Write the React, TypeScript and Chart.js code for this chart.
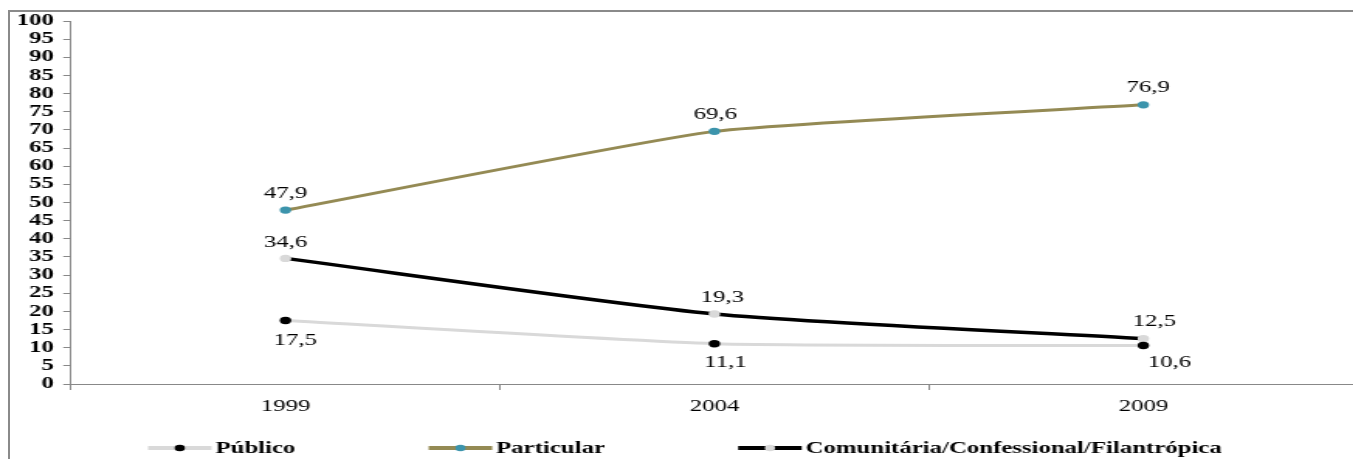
import React, { useEffect, useRef } from "react";
import { Chart, registerables } from "chart.js";

Chart.register(...registerables);

// ---- data ----
const years = ["1999", "2004", "2009"];
const publico = [17.5, 11.1, 10.6];
const particular = [47.9, 69.6, 76.9];
const comunitaria = [34.6, 19.3, 12.5];
const seriesNames = ["Público", "Particular", "Comunitária/Confessional/Filantrópica"];
const yMin = 0;
const yMax = 100;
const yStep = 5;

// ---- layout / style ----
const SX = 1.55; // horizontal stretch of the picture
const W = 880;
const H = 459;
const FONT = "'Liberation Serif', 'Times New Roman', serif";

const fmt = (v: number) => v.toFixed(1).replace(".", ",");

const labelPlugin = {
  id: "valueLabels",
  afterDatasetsDraw(chart: any, _args: any, opts: any) {
    const ctx = chart.ctx;
    ctx.save();
    ctx.font = `16px ${FONT}`;
    ctx.fillStyle = "#000";
    ctx.textAlign = "center";
    ctx.textBaseline = "middle";
    chart.data.datasets.forEach((ds: any, di: number) => {
      const meta = chart.getDatasetMeta(di);
      const off = opts.offsets[di];
      meta.data.forEach((pt: any, i: number) => {
        const [dx, dy] = off[i];
        ctx.fillText(fmt(ds.data[i]), pt.x + dx / SX, pt.y + dy);
      });
    });
    ctx.restore();
  },
};

const legendPlugin = {
  id: "lineLegend",
  afterDraw(chart: any, _args: any, opts: any) {
    const ctx = chart.ctx;
    ctx.save();
    ctx.font = `bold 16px ${FONT}`;
    ctx.textBaseline = "middle";
    ctx.textAlign = "left";
    let x = opts.startX;
    const y = opts.y;
    chart.data.datasets.forEach((ds: any) => {
      ctx.strokeStyle = ds.borderColor;
      ctx.lineWidth = opts.lineWidth;
      ctx.lineCap = "butt";
      ctx.beginPath();
      ctx.moveTo(x, y);
      ctx.lineTo(x + opts.lineLen, y);
      ctx.stroke();
      ctx.fillStyle = ds.pointBackgroundColor;
      ctx.beginPath();
      ctx.arc(x + opts.lineLen / 2, y, opts.dotR, 0, Math.PI * 2);
      ctx.fill();
      const tx = x + opts.lineLen + opts.textGap;
      ctx.fillStyle = "#000";
      ctx.fillText(ds.label, tx, y + 1);
      x = tx + ctx.measureText(ds.label).width + opts.itemGap;
    });
    ctx.restore();
  },
};

export default function App() {
  const ref = useRef<HTMLCanvasElement>(null);

  useEffect(() => {
    if (!ref.current) return;
    const chart = new Chart(ref.current, {
      type: "line",
      data: {
        labels: years,
        datasets: [
          {
            label: seriesNames[0],
            data: publico,
            borderColor: "#D9D9D9",
            borderWidth: 3,
            pointBackgroundColor: "#000000",
            pointBorderColor: "#000000",
            pointBorderWidth: 0,
            pointRadius: 3.7,
            tension: 0.18,
          },
          {
            label: seriesNames[1],
            data: particular,
            borderColor: "#948A54",
            borderWidth: 3,
            pointBackgroundColor: "#3C94AC",
            pointBorderColor: "#3C94AC",
            pointBorderWidth: 0,
            pointRadius: 3.7,
            tension: 0.15,
          },
          {
            label: seriesNames[2],
            data: comunitaria,
            borderColor: "#000000",
            borderWidth: 3.5,
            pointBackgroundColor: "#D9D9D9",
            pointBorderColor: "#D9D9D9",
            pointBorderWidth: 0,
            pointRadius: 3.7,
            tension: 0.22,
          },
        ],
      },
      options: {
        responsive: false,
        animation: false,
        devicePixelRatio: 1,
        layout: {
          padding: { left: 0, top: 21, right: W - 1359 / SX, bottom: 0 },
        },
        scales: {
          x: {
            type: "category",
            offset: true,
            grid: {
              offset: true,
              drawOnChartArea: false,
              drawTicks: true,
              tickLength: 6,
              color: "#888888",
              lineWidth: 1,
            },
            border: { color: "#888888", width: 1 },
            ticks: {
              color: "#000",
              font: { family: FONT, size: 16 },
              padding: 7,
              maxRotation: 0,
              autoSkip: false,
            },
            afterFit: (s: any) => {
              s.height = 75;
            },
          },
          y: {
            min: yMin,
            max: yMax,
            ticks: {
              stepSize: yStep,
              autoSkip: false,
              color: "#000",
              font: { family: FONT, size: 16, weight: "bold" },
              padding: 6,
            },
            grid: {
              drawOnChartArea: false,
              tickLength: 5,
              color: "#888888",
            },
            border: { color: "#888888", width: 1 },
            afterFit: (s: any) => {
              s.width = 71 / SX;
            },
          },
        },
        plugins: {
          legend: { display: false },
          tooltip: { enabled: false },
          valueLabels: {
            offsets: [
              [[10, 20], [11, 19], [26, 17]],
              [[0, -16], [1, -17], [5, -17]],
              [[0, -16], [8, -16], [11, -17]],
            ],
          },
          lineLegend: {
            startX: 148 / SX,
            y: 448,
            lineLen: 41,
            textGap: 2.5,
            itemGap: 86,
            lineWidth: 4,
            dotR: 3.3,
          },
        } as any,
      },
      plugins: [labelPlugin, legendPlugin],
    } as any);
    return () => chart.destroy();
  }, []);

  return (
    <div
      style={{
        position: "fixed",
        left: 0,
        top: 0,
        width: 1353,
        height: 459,
        overflow: "hidden",
        background: "#fff",
      }}
    >
      <div
        style={{
          position: "absolute",
          left: 8,
          top: 10,
          right: -10,
          bottom: -10,
          borderLeft: "2px solid #8a8a8a",
          borderTop: "2px solid #8a8a8a",
        }}
      />
      <canvas
        ref={ref}
        width={W}
        height={H}
        style={{
          position: "absolute",
          left: 0,
          top: 0,
          width: W,
          height: H,
          transform: `scaleX(${SX})`,
          transformOrigin: "0 0",
        }}
      />
    </div>
  );
}
